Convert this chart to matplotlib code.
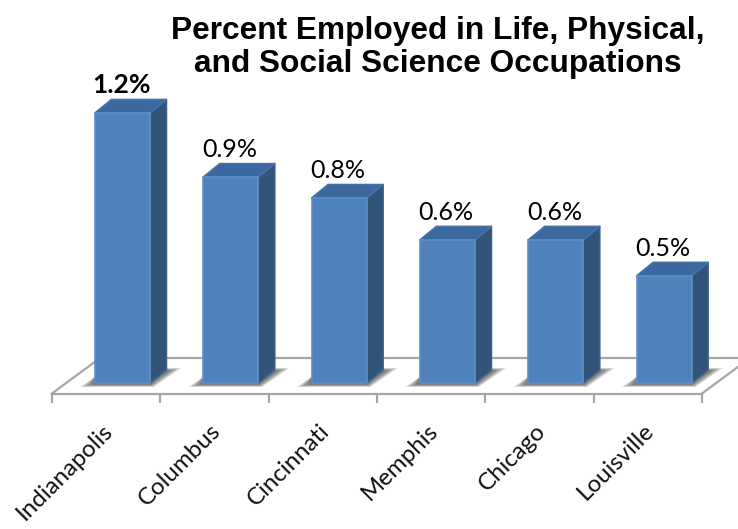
import numpy as np
from matplotlib import pyplot as plt
from matplotlib.patches import Polygon

cities = ['Indianapolis', 'Columbus', 'Cincinnati', 'Memphis', 'Chicago', 'Louisville']
values = [1.2, 0.915, 0.822, 0.636, 0.636, 0.476]
value_labels = ['1.2%', '0.9%', '0.8%', '0.6%', '0.6%', '0.5%']

# scale of the picture, pixels per category and per percent
px_x = 108.33
px_y = 225.0


def dx(px):
    return px / px_x


def dy(px):
    return px / px_y


fig = plt.figure(figsize=(7.38, 5.29), dpi=100)
ax = fig.add_axes([0, 0, 1, 1])
ax.set_xlim(-52 / px_x, 686 / px_x)
ax.set_ylim(-146 / px_y, 383 / px_y)
ax.patch.set_visible(False)
for side in ['top', 'left', 'right']:
    ax.spines[side].set_visible(False)

# floor of the 3d chart
grey = '#a6a6a6'
floor_y = dy(-10.5)
back_y = dy(25)
ax.spines['bottom'].set_position(('data', floor_y))
ax.spines['bottom'].set_bounds(0, 6)
ax.spines['bottom'].set_color(grey)
ax.spines['bottom'].set_linewidth(1.6)
ax.plot([0, dx(48)], [floor_y, back_y], color=grey, lw=1.6)
ax.plot([6, 6 + dx(48)], [floor_y, back_y], color=grey, lw=1.6)
ax.plot([dx(48), 6 + dx(48)], [back_y, back_y], color=grey, lw=1.6)

ax.set_xticks(range(7))
ax.set_xticklabels([])
ax.tick_params(axis='x', which='major', length=6.5, width=1.6, color=grey)
ax.set_xticks(np.arange(6) + 0.46, minor=True)
ax.set_xticklabels(cities, minor=True, rotation=45, ha='right', va='top',
                   rotation_mode='anchor', fontsize=17.3, family='Lato', color='#111111')
ax.tick_params(axis='x', which='minor', length=0, pad=19)
ax.set_yticks([])

# bars
x = np.arange(6) + 0.15
width = dx(55)
left = x + 0.5 - width / 2
depth_x = dx(16.5)
depth_y = dy(13.5)

for l in left:
    r = l + width
    # soft shadow on the floor, layered polygons
    for k in range(14):
        g = k * 1.3
        ax.add_patch(Polygon([(l - dx(15 - g), dy(-4 + g * 0.2)),
                              (r + dx(4 - g * 0.3), dy(-4 + g * 0.2)),
                              (r + depth_x + dx(15 - g), dy(15 - g * 0.2)),
                              (r + depth_x, dy(15 - g * 0.2)),
                              (l, dy(6))],
                             closed=True, fc='#4a4a4a', ec='none', alpha=0.11, zorder=2))

ax.bar(left + width / 2, values, width=width, color='#4f81bd', edgecolor='#5f8fc9',
       linewidth=1.2, zorder=4)

for l, v, lab in zip(left, values, value_labels):
    r = l + width
    ax.add_patch(Polygon([(r, 0), (r + depth_x, depth_y), (r + depth_x, v + depth_y), (r, v)],
                         closed=True, fc='#325479', ec='#3a5f88', lw=1.2, joinstyle='round', zorder=3))
    ax.add_patch(Polygon([(l, v), (r, v), (r + depth_x, v + depth_y), (l + depth_x, v + depth_y)],
                         closed=True, fc='#3b689e', ec='#4672a6', lw=1.2, joinstyle='round', zorder=3))
    bold = lab == '1.2%'
    ax.annotate(lab, (l + width / 2, v), xytext=(-1, 14.5), textcoords='offset points',
                ha='center', va='baseline', fontsize=19 if bold else 18, family='Lato',
                fontweight='bold' if bold else 'normal', color='black', zorder=5)

fig.text(438 / 738, 1 - 47.5 / 529, 'Percent Employed in Life, Physical,\nand Social Science Occupations',
         ha='center', va='center', fontsize=22.8, fontweight='bold',
         family='Liberation Sans', linespacing=1.17)

fig.savefig('out.png', dpi=100)
